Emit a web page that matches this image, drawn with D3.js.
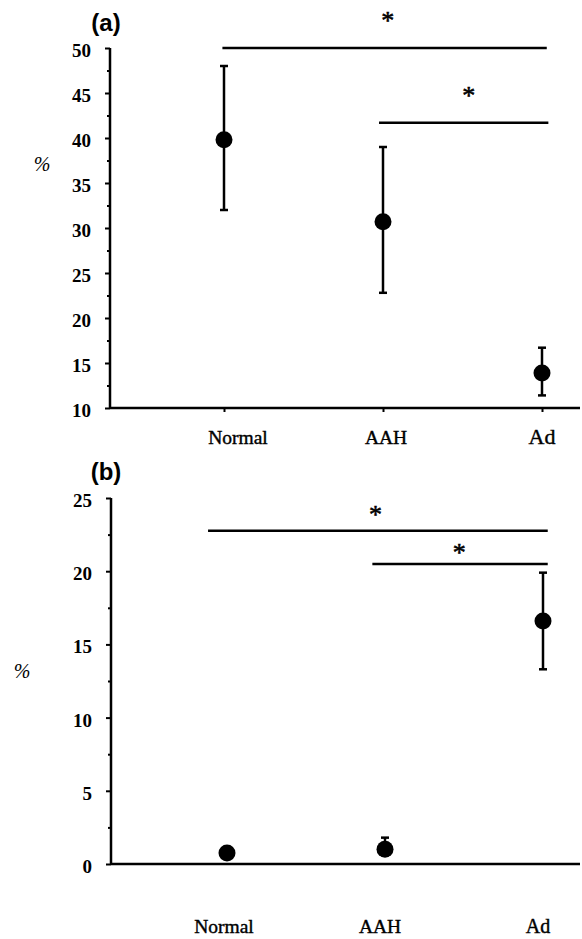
<!DOCTYPE html>
<html>
<head>
<meta charset="utf-8">
<script src="https://cdn.jsdelivr.net/npm/d3@7"></script>
<style>
  body { margin: 0; background: #fff; }
  svg { display: block; }
  .tick text { font-family: "Liberation Serif", serif; font-weight: bold; font-size: 19px; fill: #000; }
</style>
</head>
<body>
<div id="chart"></div>
<script>
// Data
// ================================
var categories = ["Normal", "AAH", "Ad"];

// panel (a)
var meanA = [39.8, 30.7, 13.9];
var lowA = [32.0, 22.8, 11.4];
var highA = [48.0, 39.0, 16.7];
var yTicksA = [10, 15, 20, 25, 30, 35, 40, 45, 50];
var yMinorA = [12.5, 17.5, 22.5, 27.5, 32.5, 37.5, 42.5, 47.5];

// panel (b)
var meanB = [0.75, 1.0, 16.6];
var lowB = [0.5, 0.6, 13.3];
var highB = [1.0, 1.8, 19.9];
var yTicksB = [0, 5, 10, 15, 20, 25];
var yMinorB = [2.5, 7.5, 12.5, 17.5, 22.5];

// significance bars: x in category index units, y in data units
var sigA = [
  { x0: -0.01, x1: 2.03, y: 50, sx: 1.03, sy: 53.4 },
  { x0: 0.975, x1: 2.04, y: 41.7, sx: 1.54, sy: 45.1 }
];
var sigB = [
  { x0: -0.12, x1: 2.03, y: 22.77, sx: 0.94, sy: 24.1 },
  { x0: 0.92, x1: 2.03, y: 20.5, sx: 1.47, sy: 21.5 }
];

var svgWidth = 582;
var svgHeight = 939;

var svg = d3.select("#chart")
  .append("svg")
  .attr("width", svgWidth)
  .attr("height", svgHeight);

// draws one panel
function drawPanel(opt) {
  var g = svg.append("g");
  var rows = categories.map(function(c, i) {
    return { cat: c, i: i, mean: opt.mean[i], low: opt.low[i], high: opt.high[i] };
  });

  var x = d3.scaleLinear().domain([0, 2]).range(opt.xRange);
  var y = d3.scaleLinear().domain(opt.yDomain).range(opt.yRange);

  // y axis, major + minor ticks
  var yAxis = g.append("g")
    .attr("transform", `translate(${opt.axisX}, 0)`)
    .call(d3.axisLeft(y).tickValues(opt.yTicks).tickSize(5).tickPadding(14).tickSizeOuter(0));
  yAxis.select(".domain").remove();
  yAxis.selectAll(".tick line").attr("stroke", "#000").attr("stroke-width", 2);
  yAxis.selectAll(".tick text").attr("dy", "0.45em");

  var yMinor = g.append("g")
    .attr("transform", `translate(${opt.axisX}, 0)`)
    .call(d3.axisLeft(y).tickValues(opt.yMinor).tickSize(3).tickFormat(""));
  yMinor.select(".domain").remove();
  yMinor.selectAll(".tick line").attr("stroke", "#000").attr("stroke-width", 2);

  g.append("line")
    .attr("x1", opt.axisX).attr("x2", opt.axisX)
    .attr("y1", y(opt.yDomain[1])).attr("y2", y(opt.yDomain[0]) + 1)
    .attr("stroke", "#000").attr("stroke-width", 2.5);

  // x axis
  var xAxis = g.append("g")
    .attr("transform", `translate(0, ${y(opt.yDomain[0])})`)
    .call(d3.axisBottom(x).tickValues([0, 1, 2]).tickSize(opt.xTick).tickFormat(""));
  xAxis.select(".domain").remove();
  xAxis.selectAll(".tick line").attr("stroke", "#000").attr("stroke-width", 2);

  g.append("line")
    .attr("x1", opt.axisX).attr("x2", 580)
    .attr("y1", y(opt.yDomain[0])).attr("y2", y(opt.yDomain[0]))
    .attr("stroke", "#000").attr("stroke-width", 2.5);

  // category labels
  g.selectAll(".cat-label")
    .data(rows)
    .enter()
    .append("text")
    .attr("class", "cat-label")
    .attr("x", d => x(d.i) + opt.labelDx[d.i])
    .attr("y", opt.labelY)
    .attr("text-anchor", "middle")
    .attr("font-family", "Liberation Serif, serif")
    .attr("font-size", d => d.cat === "Ad" ? opt.adSize : 19.5)
    .attr("stroke", "#000").attr("stroke-width", 0.4)
    .attr("fill", "#000")
    .text(d => d.cat);

  // error bars
  g.selectAll(".err")
    .data(rows)
    .enter()
    .append("line")
    .attr("class", "err")
    .attr("x1", d => x(d.i)).attr("x2", d => x(d.i))
    .attr("y1", d => y(d.low)).attr("y2", d => y(d.high))
    .attr("stroke", "#000").attr("stroke-width", 2.5);

  g.selectAll(".cap-hi")
    .data(rows)
    .enter()
    .append("line")
    .attr("class", "cap-hi")
    .attr("x1", d => x(d.i) - 4).attr("x2", d => x(d.i) + 4)
    .attr("y1", d => y(d.high)).attr("y2", d => y(d.high))
    .attr("stroke", "#000").attr("stroke-width", 2.5);

  g.selectAll(".cap-lo")
    .data(rows)
    .enter()
    .append("line")
    .attr("class", "cap-lo")
    .attr("x1", d => x(d.i) - 4).attr("x2", d => x(d.i) + 4)
    .attr("y1", d => y(d.low)).attr("y2", d => y(d.low))
    .attr("stroke", "#000").attr("stroke-width", 2.5);

  // points
  g.selectAll(".dot")
    .data(rows)
    .enter()
    .append("circle")
    .attr("class", "dot")
    .attr("cx", d => x(d.i))
    .attr("cy", d => y(d.mean))
    .attr("r", 8.5)
    .attr("fill", "#000");

  // significance bars
  g.selectAll(".sig")
    .data(opt.sig)
    .enter()
    .append("line")
    .attr("class", "sig")
    .attr("x1", d => x(d.x0)).attr("x2", d => x(d.x1))
    .attr("y1", d => y(d.y)).attr("y2", d => y(d.y))
    .attr("stroke", "#000").attr("stroke-width", 2.5);

  g.selectAll(".star")
    .data(opt.sig)
    .enter()
    .append("text")
    .attr("class", "star")
    .attr("x", d => x(d.sx))
    .attr("y", d => y(d.sy))
    .attr("dy", "0.45em")
    .attr("text-anchor", "middle")
    .attr("font-family", "Liberation Serif, serif")
    .attr("font-size", 26)
    .attr("stroke", "#000").attr("stroke-width", 0.6)
    .attr("fill", "#000")
    .text("*");

  // panel letter and unit
  g.append("text")
    .attr("x", opt.letterX).attr("y", opt.letterY)
    .attr("text-anchor", "middle")
    .attr("font-family", "Liberation Sans, Arial, sans-serif")
    .attr("font-weight", "bold")
    .attr("font-size", 24)
    .attr("fill", "#000")
    .text(opt.letter);

  g.append("text")
    .attr("x", opt.pctX).attr("y", opt.pctY)
    .attr("text-anchor", "middle")
    .attr("font-family", "Liberation Serif, serif")
    .attr("font-style", "italic")
    .attr("font-size", 20)
    .attr("fill", "#000")
    .text("%");
}

drawPanel({
  mean: meanA, low: lowA, high: highA,
  yDomain: [10, 50], yRange: [408, 48], yTicks: yTicksA, yMinor: yMinorA,
  xRange: [224, 542], axisX: 110, xTick: 4,
  labelY: 444, labelDx: [14, 3, 0], adSize: 22,
  sig: sigA, letter: "(a)", letterX: 106, letterY: 31, pctX: 42, pctY: 171
});

drawPanel({
  mean: meanB, low: lowB, high: highB,
  yDomain: [0, 25], yRange: [864, 498], yTicks: yTicksB, yMinor: yMinorB,
  xRange: [227, 543], axisX: 111, xTick: 0,
  labelY: 933, labelDx: [-3, -5, -5], adSize: 20,
  sig: sigB, letter: "(b)", letterX: 106, letterY: 480, pctX: 22, pctY: 678
});
</script>
</body>
</html>
